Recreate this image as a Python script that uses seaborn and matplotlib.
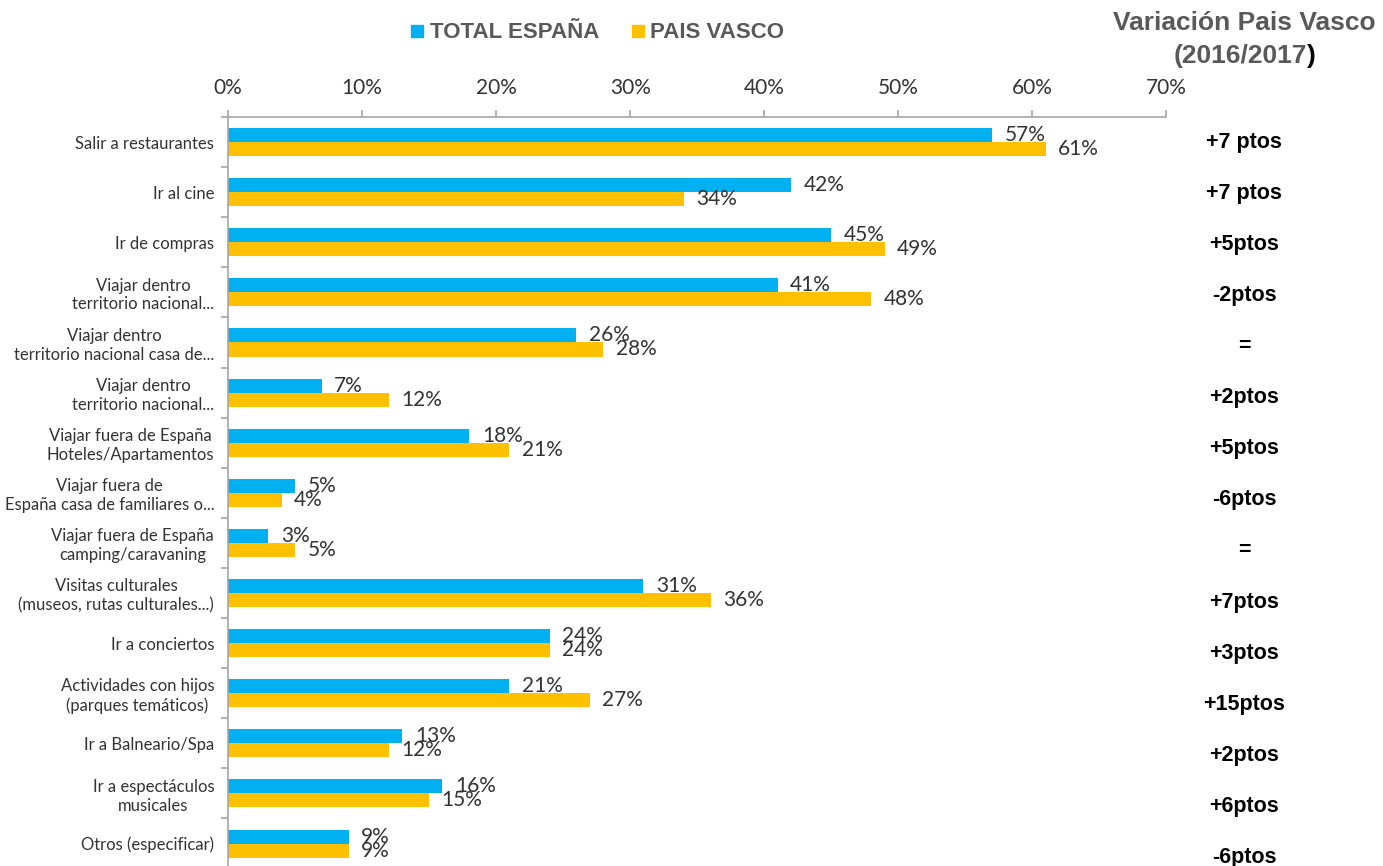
import pandas as pd
import seaborn as sns
import matplotlib.pyplot as plt
import matplotlib.transforms as mtransforms
from matplotlib.ticker import PercentFormatter, FixedLocator
from matplotlib.lines import Line2D

# data
categories = [
    'Salir a restaurantes',
    'Ir al cine',
    'Ir de compras',
    'Viajar dentro\nterritorio nacional...',
    'Viajar dentro\nterritorio nacional casa de...',
    'Viajar dentro\nterritorio nacional...',
    'Viajar fuera de España\nHoteles/Apartamentos',
    'Viajar fuera de\nEspaña casa de familiares o...',
    'Viajar fuera de España\ncamping/caravaning',
    'Visitas culturales\n(museos, rutas culturales...)',
    'Ir a conciertos',
    'Actividades con hijos\n(parques temáticos)',
    'Ir a Balneario/Spa',
    'Ir a espectáculos\nmusicales',
    'Otros (especificar)',
]
total_espana = [57, 42, 45, 41, 26, 7, 18, 5, 3, 31, 24, 21, 13, 16, 9]
pais_vasco = [61, 34, 49, 48, 28, 12, 21, 4, 5, 36, 24, 27, 12, 15, 9]
variacion = ['+7 ptos', '+7 ptos', '+5ptos', '-2ptos', '=', '+2ptos', '+5ptos',
             '-6ptos', '=', '+7ptos', '+3ptos', '+15ptos', '+2ptos', '+6ptos', '-6ptos']
series = ['TOTAL ESPAÑA', 'PAIS VASCO']
colors = ['#00B0F0', '#FFC000']

# long format for seaborn (unique keys so repeated labels stay separate)
keys = [f'c{i}' for i in range(len(categories))]
df = pd.DataFrame({
    'key': keys * 2,
    'value': total_espana + pais_vasco,
    'serie': [series[0]] * len(keys) + [series[1]] * len(keys),
})

sns.set_style('white')
plt.rcParams['font.family'] = ['Lato', 'DejaVu Sans']

fig = plt.figure(figsize=(13.83, 8.66), dpi=100)
ax = fig.add_axes([0.1649, -0.003, 0.6783, 0.8679])

sns.barplot(data=df, y='key', x='value', hue='serie', orient='h',
            palette=colors, saturation=1, width=0.56, linewidth=0, ax=ax, legend=False)

ax.set_xlim(0, 70)
ax.set_ylim(len(categories) - 0.5, -0.5)
ax.xaxis.tick_top()
ax.xaxis.set_major_locator(FixedLocator(range(0, 71, 10)))
ax.xaxis.set_major_formatter(PercentFormatter(decimals=0))
ax.tick_params(axis='x', direction='out', length=5, width=1.2, color='#A6A6A6',
               labelsize=15, labelcolor='#333333', pad=9)

ax.set_yticks(range(len(categories)))
ax.set_yticklabels(categories)
for lbl in ax.get_yticklabels():
    lbl.set_multialignment('center')
ax.yaxis.set_minor_locator(FixedLocator([i + 0.5 for i in range(-1, len(categories))]))
ax.tick_params(axis='y', which='major', length=0, labelsize=12, labelcolor='#333333', pad=10)
ax.tick_params(axis='y', which='minor', length=5, width=1.2, color='#A6A6A6', left=True)
ax.set_xlabel('')
ax.set_ylabel('')

for side in ['right', 'bottom']:
    ax.spines[side].set_visible(False)
for side in ['top', 'left']:
    ax.spines[side].set_color('#A6A6A6')
    ax.spines[side].set_linewidth(1.2)

# data labels
for cont in ax.containers:
    ax.bar_label(cont, labels=[f'{v:.0f}%' for v in cont.datavalues],
                 padding=9, fontsize=15, color='#333333')

# variation column on the right
trans = mtransforms.blended_transform_factory(fig.transFigure, ax.transData)
for i, txt in enumerate(variacion):
    ax.text(0.8995, i + 0.02 * i, txt, transform=trans, ha='center', va='center',
            fontsize=15.5, fontweight='bold', family='Liberation Sans', color='#000000')

# title on the right
fig.text(0.9, 0.973, 'Variación Pais Vasco', ha='center', va='center',
         fontsize=19, fontweight='bold', family='Liberation Sans', color='#595959')
t2 = fig.text(0.897, 0.935, '(2016/2017', ha='center', va='center',
              fontsize=19, fontweight='bold', family='Liberation Sans', color='#595959')
ax.annotate(')', xy=(1, 0), xycoords=t2, ha='left', va='bottom',
            fontsize=19, fontweight='bold', family='Liberation Sans', color='#000000')

# legend
handles = [Line2D([], [], marker='s', linestyle='', markersize=8, color=c) for c in colors]
leg = fig.legend(handles, series, loc='center', bbox_to_anchor=(0.432, 0.962), ncol=2,
                 frameon=False, handlelength=0.6, handletextpad=0.25, columnspacing=1.45,
                 prop={'family': 'Liberation Sans', 'weight': 'bold', 'size': 16})
for t in leg.get_texts():
    t.set_color('#595959')

fig.savefig('out.png', dpi=100)
